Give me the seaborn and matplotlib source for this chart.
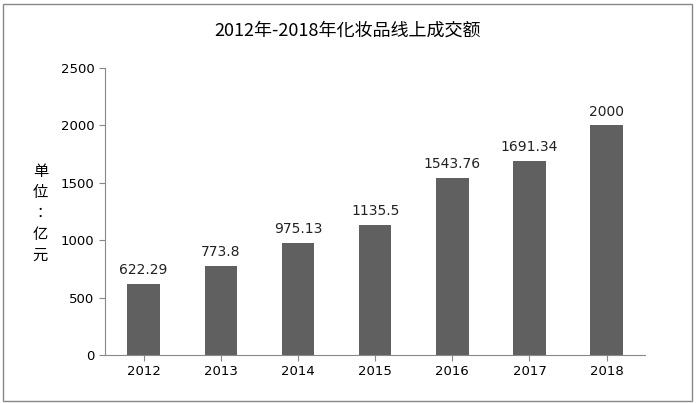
import matplotlib
matplotlib.use("Agg")
import matplotlib.pyplot as plt
from matplotlib import font_manager
import seaborn as sns
import pandas as pd

years = ["2012", "2013", "2014", "2015", "2016", "2017", "2018"]
values = [622.29, 773.8, 975.13, 1135.5, 1543.76, 1691.34, 2000]
labels = ["622.29", "773.8", "975.13", "1135.5", "1543.76", "1691.34", "2000"]

df = pd.DataFrame({"year": years, "value": values})

# find an installed CJK font name
names = sorted({f.name for f in font_manager.fontManager.ttflist})
cjk = [n for n in names if "CJK" in n] + ["Noto Sans CJK SC", "Noto Sans CJK JP"]
plt.rcParams["font.family"] = ["DejaVu Sans"] + cjk

fig = plt.figure(figsize=(6.96, 4.03), dpi=100)
ax = fig.add_axes([0.151, 0.119, 0.776, 0.712])

sns.barplot(data=df, x="year", y="value", color="#606060", width=0.42,
            saturation=1, ax=ax)

for i, (v, t) in enumerate(zip(values, labels)):
    ax.text(i, v + 60, t, ha="center", va="bottom", fontsize=10, color="#222222")

ax.set_ylim(0, 2500)
ax.set_yticks(range(0, 2501, 500))
ax.set_xlabel("")
ax.set_ylabel("")
ax.tick_params(labelsize=9.5, length=4, color="#888888")
for s in ["top", "right"]:
    ax.spines[s].set_visible(False)
for s in ["left", "bottom"]:
    ax.spines[s].set_color("#888888")

fig.text(0.5, 0.925, "2012年-2018年化妆品线上成交额", ha="center", va="center",
         fontsize=13, fontfamily=cjk)
fig.text(0.058, 0.47, "单\n位\n：\n亿\n元", ha="center", va="center",
         fontsize=11, fontfamily=cjk, linespacing=1.3)

border = plt.Rectangle((0.004, 0.006), 0.99, 0.985, transform=fig.transFigure,
                       fill=False, edgecolor="#888888", linewidth=1)
fig.patches.append(border)

fig.savefig("out.png", dpi=100)
